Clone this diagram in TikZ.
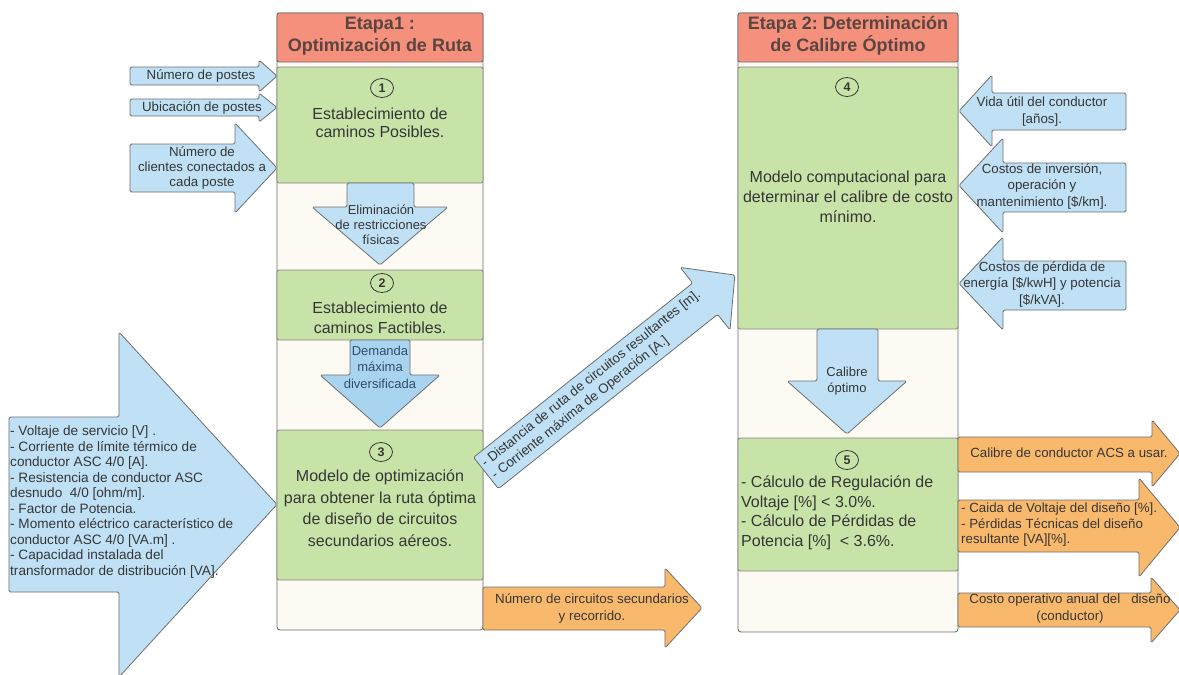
\documentclass[tikz,border=0pt]{standalone}
\usepackage{fontspec}
\setmainfont{Liberation Sans}
\usetikzlibrary{shapes.geometric}
\frenchspacing

\definecolor{hdrred}{HTML}{F4907B}
\definecolor{boxgreen}{HTML}{C8E3A8}
\definecolor{colcream}{HTML}{FDFAF4}
\definecolor{arrblue}{HTML}{C0E1F5}
\definecolor{arrbluedeep}{HTML}{A9D4EF}
\definecolor{arrorange}{HTML}{F9B96D}
\definecolor{edgegray}{HTML}{6E6E6E}
\definecolor{txtdark}{HTML}{363636}
\definecolor{hdrtext}{HTML}{5A4540}
\definecolor{bluetext}{HTML}{2F4F6A}

\tikzset{
  colframe/.style={draw=edgegray, line width=0.9pt, fill=colcream, rounded corners=3pt},
  hdrbox/.style={draw=edgegray, line width=0.9pt, fill=hdrred, rounded corners=2pt},
  stepbox/.style={draw=edgegray!85, line width=0.8pt, fill=boxgreen, rounded corners=2pt},
  bluearrow/.style={draw=edgegray, line width=0.8pt, fill=arrblue, rounded corners=1.5pt, line join=round},
  deeparrow/.style={bluearrow, fill=arrbluedeep},
  orangearrow/.style={draw=edgegray, line width=0.8pt, fill=arrorange, rounded corners=1.5pt, line join=round},
  hdrlabel/.style={font=\fontsize{18}{22}\selectfont\bfseries, text=hdrtext, align=center, inner sep=0pt},
  steplabel/.style={font=\fontsize{16}{20}\selectfont, text=txtdark, align=center, inner sep=0pt},
  smalllabel/.style={font=\fontsize{13.3}{15.5}\selectfont, text=txtdark, align=center, inner sep=0pt},
  numcirc/.style={draw=txtdark, ellipse, line width=0.8pt, minimum width=23pt, minimum height=19pt,
    inner sep=0pt, font=\fontsize{12.5}{12.5}\selectfont\bfseries, text=txtdark},
}

\begin{document}
\begin{tikzpicture}[x=1pt, y=-1pt]
\clip (0,0) rectangle (1179,675);
\fill[white] (0,0) rectangle (1179,675);

% ---------- Stage 1 column ----------
\draw[colframe] (277,13) rectangle (483,630);
\draw[hdrbox] (277,13) rectangle (483,62);
\node[hdrlabel] (h1) at (380,36) {Etapa1 :\\Optimización de Ruta};

\draw[stepbox] (277,67) rectangle (483,183);
\node[numcirc] (c1) at (382,88) {1};
\node[steplabel, font=\fontsize{16}{18.5}\selectfont] (t1) at (380,123) {Establecimiento de\\caminos Posibles.};

\draw[bluearrow] (347,183) -- (414,183) -- (414,207) -- (448,207) -- (380,265) -- (312,207) -- (347,207) -- cycle;
\node[smalllabel, font=\fontsize{13}{15}\selectfont] (d1) at (381,225) {Eliminación\\de restricciones\\físicas};

\draw[stepbox] (277,270) rectangle (483,340);
\node[numcirc] (c2) at (382,283) {2};
\node[steplabel] (t2) at (380,318) {Establecimiento de\\caminos Factibles.};

\draw[deeparrow] (350,340) -- (410,340) -- (410,375) -- (440,375) -- (380,428) -- (320,375) -- (350,375) -- cycle;
\node[smalllabel, font=\fontsize{13}{16.5}\selectfont, text=bluetext] (d2) at (380,367) {Demanda\\máxima\\diversificada};

\draw[stepbox] (277,430) rectangle (483,580);
\node[numcirc] (c3) at (381,452) {3};
\node[steplabel, font=\fontsize{16}{21.5}\selectfont] (t3) at (380,508)
  {Modelo de optimización\\para obtener la ruta óptima\\de diseño de circuitos\\secundarios aéreos.};

% ---------- Stage 2 column ----------
\draw[colframe] (738,13) rectangle (958,632);
\draw[hdrbox] (738,13) rectangle (958,62);
\node[hdrlabel] (h2) at (848,36) {Etapa 2: Determinación\\de Calibre Óptimo};

\draw[stepbox] (738,67) rectangle (958,329);
\node[numcirc] (c4) at (847,87) {4};
\node[steplabel] (t4) at (848,197) {Modelo computacional para\\determinar el calibre de costo\\mínimo.};

\draw[bluearrow] (817,329) -- (878,329) -- (878,381) -- (907,381) -- (847,434) -- (787,381) -- (817,381) -- cycle;
\node[smalllabel, font=\fontsize{13}{16.5}\selectfont] (d3) at (847,381) {Calibre\\óptimo};

\draw[stepbox] (738,438) rectangle (958,571);
\node[numcirc] (c5) at (847,460) {5};
\node[steplabel, font=\fontsize{16}{19.5}\selectfont, align=left, anchor=west] (t5) at (741,513)
  {- Cálculo de Regulación de\\Voltaje [\%] < 3.0\%.\\- Cálculo de Pérdidas de\\Potencia [\%]\ \ < 3.6\%.};

% ---------- Inputs to stage 1 ----------
\draw[bluearrow] (130,67) -- (259,67) -- (259,60) -- (277,76) -- (259,92) -- (259,85) -- (130,85) -- cycle;
\node[smalllabel] (i1) at (201,76) {Número de postes};

\draw[bluearrow] (130,99) -- (259,99) -- (259,93) -- (277,107.5) -- (259,122) -- (259,116) -- (130,116) -- cycle;
\node[smalllabel] (i2) at (202,107.5) {Ubicación de postes};

\draw[bluearrow] (130,144) -- (235,144) -- (235,123) -- (277,168) -- (235,213) -- (235,192) -- (130,192) -- cycle;
\node[smalllabel, font=\fontsize{13.3}{15}\selectfont] (i3) at (202,168) {Número de\\clientes conectados a\\cada poste};

\draw[bluearrow] (9,417) -- (119,417) -- (119,332) -- (277,504.5) -- (119,677) -- (119,592) -- (9,592) -- cycle;
\node[smalllabel, font=\fontsize{13.6}{15.5}\selectfont, align=left, anchor=west] (i4) at (10,502)
  {- Voltaje de servicio [V] .\\- Corriente de límite térmico de\\conductor ASC 4/0 [A].\\- Resistencia de conductor ASC\\desnudo\ \ 4/0 [ohm/m].\\- Factor de Potencia.\\- Momento eléctrico característico de\\conductor ASC 4/0 [VA.m] .\\- Capacidad instalada del\\transformador de distribución [VA].};

% ---------- Inputs to stage 2 ----------
\draw[bluearrow] (1126,93) -- (992,93) -- (992,75) -- (959,111) -- (992,147) -- (992,130) -- (1126,130) -- cycle;
\node[smalllabel, font=\fontsize{13.3}{17}\selectfont] (j1) at (1042,111) {Vida útil del conductor\\{}[años].};

\draw[bluearrow] (1126,163) -- (1003,163) -- (1003,138) -- (959,185.5) -- (1003,233) -- (1003,212) -- (1126,212) -- cycle;
\node[smalllabel, font=\fontsize{13.3}{16.5}\selectfont] (j2) at (1042,186) {Costos de inversión,\\operación y\\mantenimiento [\$/km].};

\draw[bluearrow] (1126,261) -- (1003,261) -- (1003,237) -- (959,283.5) -- (1003,330) -- (1003,310) -- (1126,310) -- cycle;
\node[smalllabel, font=\fontsize{13.3}{16.5}\selectfont] (j3) at (1042,284) {Costos de pérdida de\\energía [\$/kwH] y potencia\\{}[\$/kVA].};

% ---------- Transfer from stage 1 to stage 2 ----------
\begin{scope}[shift={(486,473)}, rotate=38.5]
  \draw[bluearrow] (0,-20) -- (280,-20) -- (280,-40) -- (318,0) -- (280,40) -- (280,20) -- (0,20) -- cycle;
  \node[smalllabel, font=\fontsize{13.4}{16}\selectfont, align=left, anchor=west, rotate=38.5] (x1) at (3,0)
    {- Distancia de ruta de circuitos resultantes [m].\\- Corriente máxima de Operación [A.]};
\end{scope}

% ---------- Outputs ----------
\draw[orangearrow] (483,587) -- (665,587) -- (665,568) -- (702,608) -- (665,648) -- (665,630) -- (483,630) -- cycle;
\node[smalllabel, font=\fontsize{13.3}{17}\selectfont] (o4) at (592,608) {Número de circuitos secundarios\\y recorrido.};

\draw[orangearrow] (958,437) -- (1152,437) -- (1152,420) -- (1180,453.5) -- (1152,487) -- (1152,472) -- (958,472) -- cycle;
\node[smalllabel] (o1) at (1069,453) {Calibre de conductor ACS a usar.};

\draw[orangearrow] (958,500) -- (1139,500) -- (1139,478) -- (1180,527.5) -- (1139,577) -- (1139,552) -- (958,552) -- cycle;
\node[smalllabel, align=left, anchor=west] (o2) at (961,525) {- Caida de Voltaje del diseño [\%].\\- Pérdidas Técnicas del diseño\\resultante [VA][\%].};

\draw[orangearrow] (958,593) -- (1151,593) -- (1151,577) -- (1180,610) -- (1151,643) -- (1151,627) -- (958,627) -- cycle;
\node[smalllabel, font=\fontsize{13.3}{17}\selectfont] (o3) at (1070,609) {Costo operativo anual del\ \ \ diseño\\(conductor)};

\end{tikzpicture}
\end{document}
